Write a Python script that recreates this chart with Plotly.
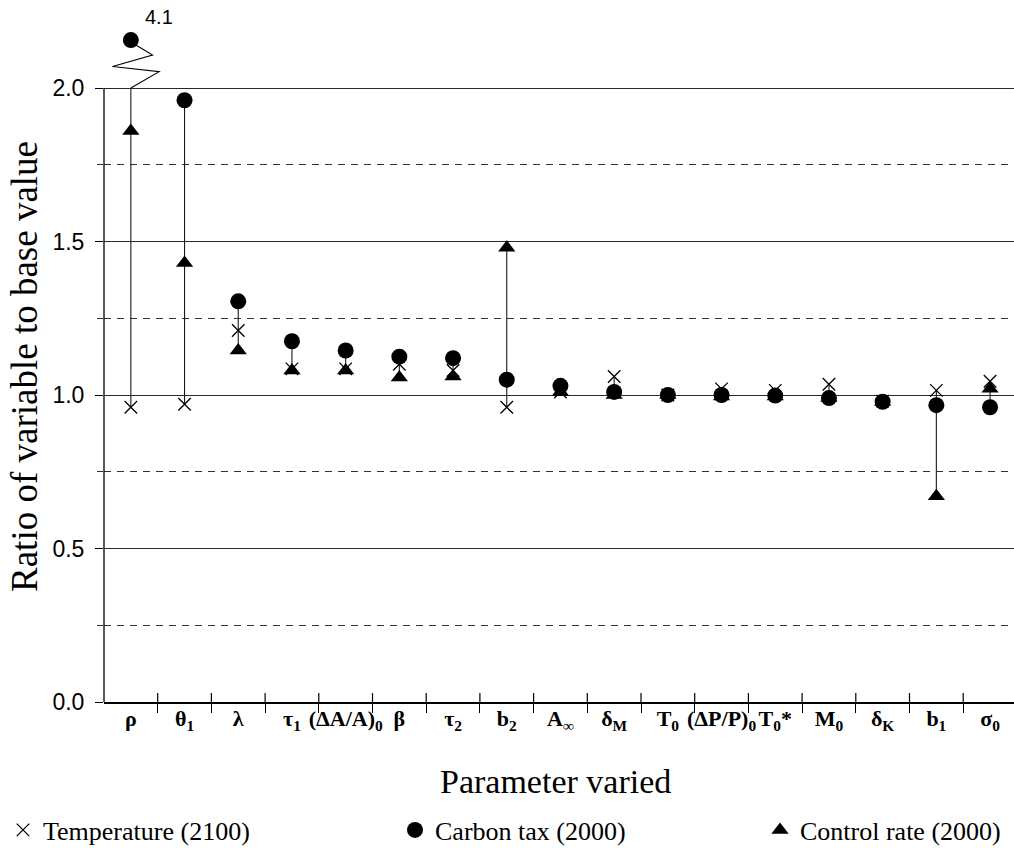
import plotly.graph_objects as go

# ---------------- data ----------------
categories = ["ρ", "θ<sub>1</sub>", "λ", "τ<sub>1</sub>", "(ΔA/A)<sub>0</sub>", "β",
              "τ<sub>2</sub>", "b<sub>2</sub>", "A<sub>∞</sub>", "δ<sub>M</sub>",
              "T<sub>0</sub>", "(ΔP/P)<sub>0</sub>", "T<sub>0</sub>*", "M<sub>0</sub>",
              "δ<sub>K</sub>", "b<sub>1</sub>", "σ<sub>0</sub>"]
temperature = [0.96, 0.97, 1.21, 1.085, 1.085, 1.10, 1.08, 0.96, 1.01, 1.06,
               1.00, 1.02, 1.015, 1.035, 0.98, 1.015, 1.045]
carbon_tax = [4.1, 1.96, 1.305, 1.175, 1.145, 1.125, 1.12, 1.05, 1.03, 1.01,
              1.00, 1.00, 0.998, 0.99, 0.978, 0.967, 0.96]
control_rate = [1.86, 1.43, 1.145, 1.08, 1.08, 1.057, 1.06, 1.48, 1.01, 1.0,
                1.0, 0.995, 0.995, 0.99, 0.977, 0.67, 1.02]
y_major = [0.0, 0.5, 1.0, 1.5, 2.0]
y_minor = [0.25, 0.75, 1.25, 1.75]

AXIS_CAP = 2.0        # values above this are drawn on a broken scale
BREAK_Y = 2.156       # display position of off-scale values

# ---------------- figure ----------------
W, H = 1014, 848
ML, MR, MT, MB = 104, 0, 32, 146
px_per_unit_y = 307.0
px_per_cat = 53.7
plot_w = W - ML - MR
plot_h = H - MT - MB
y_top = plot_h / px_per_unit_y
x_right = -0.5 + plot_w / px_per_cat
TICK_LEN = 9

idx = list(range(len(categories)))
boundaries = [i + 0.5 for i in idx[:-1]]


def disp(v):
    return v if v <= AXIS_CAP else BREAK_Y


fig = go.Figure()

# stems from min to max for each parameter
sx, sy = [], []
for i in idx:
    vals = [temperature[i], carbon_tax[i], control_rate[i]]
    lo = min(vals)
    hi = min(max(vals), AXIS_CAP)
    sx += [i, i, None]
    sy += [lo, hi, None]
fig.add_trace(go.Scatter(x=sx, y=sy, mode="lines", line=dict(color="#1a1a1a", width=1.1),
                         showlegend=False, hoverinfo="skip"))

fig.add_trace(go.Scatter(
    x=idx, y=[disp(v) for v in temperature], mode="markers", name="Temperature (2100)",
    marker=dict(symbol="x-thin-open", size=12.5, color="black", line=dict(color="black", width=1.3)),
    legend="legend", cliponaxis=False))
fig.add_trace(go.Scatter(
    x=idx, y=[disp(v) for v in carbon_tax], mode="markers", name="Carbon tax (2000)",
    marker=dict(symbol="circle", size=16, color="black"),
    legend="legend2", cliponaxis=False))
fig.add_trace(go.Scatter(
    x=idx, y=[disp(v) for v in control_rate], mode="markers", name="Control rate (2000)",
    marker=dict(symbol="triangle-up", size=15, color="black"),
    legend="legend3", cliponaxis=False))

# y axis line (only up to the top of the scale)
fig.add_shape(type="line", xref="paper", yref="y", x0=0, x1=0, y0=0, y1=AXIS_CAP,
              line=dict(color="black", width=1.3))

# upper half of the crossing category-separator ticks
for b in boundaries:
    fig.add_shape(type="line", xref="x", yref="y domain", x0=b, x1=b, y0=0,
                  y1=TICK_LEN / plot_h, line=dict(color="black", width=1.2))

# scale-break zigzag and value label for off-scale points
zig = [(0.0, 0.0), (0.527, 0.053), (-0.341, 0.070), (0.404, 0.1075), (0.093, 0.14)]
for series in (temperature, carbon_tax, control_rate):
    for i in idx:
        if series[i] > AXIS_CAP:
            path = "M " + " L ".join(f"{i + dx},{AXIS_CAP + dy}" for dx, dy in zig)
            fig.add_shape(type="path", xref="x", yref="y", path=path,
                          line=dict(color="black", width=1.1))
            fig.add_annotation(x=i, y=BREAK_Y, xref="x", yref="y", text=f"{series[i]:.1f}",
                               showarrow=False, xshift=28, yshift=23,
                               font=dict(family="Liberation Sans", size=20, color="black"))

serif = "Liberation Serif"

# axis titles as annotations (precise placement)
fig.add_annotation(text="Parameter varied", xref="paper", yref="paper",
                   x=(555 - ML) / plot_w, y=(MT + plot_h - 781) / plot_h,
                   xanchor="center", yanchor="middle", showarrow=False,
                   font=dict(family=serif, size=34, color="black"))
fig.add_annotation(text="Ratio of variable to base value", xref="paper", yref="paper",
                   x=(24 - ML) / plot_w, y=(MT + plot_h - 367) / plot_h, textangle=-90,
                   xanchor="center", yanchor="middle", showarrow=False,
                   font=dict(family=serif, size=37, color="black"))

legend_common = dict(orientation="h", xref="container", yref="container", yanchor="middle",
                     xanchor="left", y=1 - 830 / H, bgcolor="rgba(0,0,0,0)",
                     font=dict(family=serif, size=26, color="black"), itemsizing="trace")

fig.update_layout(
    width=W, height=H,
    margin=dict(l=ML, r=MR, t=MT, b=MB, pad=0),
    paper_bgcolor="white", plot_bgcolor="white",
    xaxis=dict(range=[-0.5, x_right], tickmode="array", tickvals=idx, ticktext=categories,
               tickangle=0, ticks="", ticklen=0, showgrid=False, zeroline=False, showline=True,
               linecolor="black", linewidth=1.5, ticklabelstandoff=-4,
               minor=dict(tickmode="array", tickvals=boundaries, ticks="outside",
                          ticklen=TICK_LEN, tickwidth=1.2, tickcolor="black", showgrid=False),
               tickfont=dict(family=serif, size=22, color="black", weight="bold")),
    yaxis=dict(range=[0, y_top], tickmode="array", tickvals=y_major,
               ticktext=[f"{v:.1f}" for v in y_major], ticks="outside", ticklen=8, tickwidth=1.2,
               tickcolor="black", showgrid=True, gridcolor="#2a2a2a", gridwidth=1.4,
               zeroline=False, showline=False, ticklabelstandoff=6,
               minor=dict(tickmode="array", tickvals=y_minor, showgrid=True, gridcolor="#333333",
                          gridwidth=1.1, griddash="7px,6px", ticks="outside", ticklen=6,
                          tickcolor="#333333"),
               tickfont=dict(family="Liberation Sans", size=23, color="black")),
    legend=dict(legend_common, x=3 / W),
    legend2=dict(legend_common, x=395 / W),
    legend3=dict(legend_common, x=760 / W),
)

fig.write_html("out.html")
